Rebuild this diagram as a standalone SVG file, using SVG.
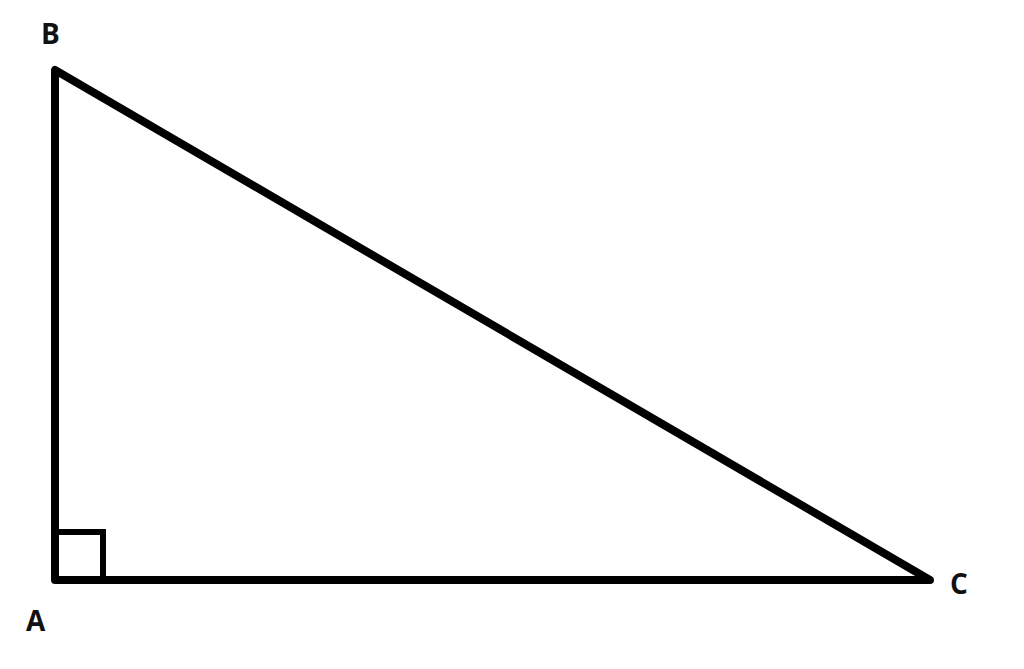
<svg xmlns="http://www.w3.org/2000/svg" width="1024" height="669" viewBox="0 0 1024 669">
<style>
.edge{fill:none;stroke:#000;stroke-width:8;stroke-linejoin:round;stroke-linecap:round}
.mark{fill:none;stroke:#000;stroke-width:6}
.lbl{font-family:"Open Sans","Liberation Sans",sans-serif;font-weight:bold;font-size:28px;fill:#111}
</style>
<rect width="1024" height="669" fill="#fff"/>
<g id="connectors">
<path class="edge" d="M55,70 L55,580 L930,580 Z"/>
<path class="mark" d="M55,532 L103,532 L103,580"/>
</g>
<g id="B"><text class="lbl" x="41" y="44">B</text></g>
<g id="A"><text class="lbl" x="26" y="631">A</text></g>
<g id="C"><text class="lbl" x="950" y="594">C</text></g>
</svg>
